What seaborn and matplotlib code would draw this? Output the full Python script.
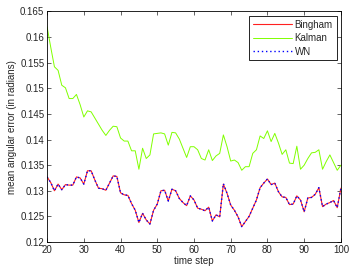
import numpy as np
import pandas as pd
import matplotlib
matplotlib.use("Agg")
import matplotlib.pyplot as plt
import seaborn as sns

steps = list(range(20, 101))

bingham = [
    0.1327, 0.1316, 0.1300, 0.1313, 0.1302, 0.1312, 0.1311, 0.1311, 0.1327, 0.1325,
    0.1313, 0.1339, 0.1339, 0.1321, 0.1305, 0.1304, 0.1301, 0.1315, 0.1329, 0.1328,
    0.1296, 0.1292, 0.1291, 0.1275, 0.1262, 0.1238, 0.1256, 0.1243, 0.1235, 0.1262,
    0.1274, 0.1300, 0.1301, 0.1280, 0.1303, 0.1300, 0.1285, 0.1277, 0.1271, 0.1290,
    0.1282, 0.1266, 0.1264, 0.1261, 0.1268, 0.1241, 0.1253, 0.1249, 0.1313, 0.1295,
    0.1272, 0.1262, 0.1249, 0.1230, 0.1240, 0.1250, 0.1266, 0.1282, 0.1306, 0.1315,
    0.1323, 0.1312, 0.1315, 0.1298, 0.1288, 0.1287, 0.1273, 0.1274, 0.1290, 0.1282,
    0.1259, 0.1286, 0.1287, 0.1293, 0.1306, 0.1269, 0.1274, 0.1277, 0.1281, 0.1267,
    0.1305,
]

kalman = [
    0.1620, 0.1580, 0.1542, 0.1535, 0.1506, 0.1501, 0.1480, 0.1480, 0.1488, 0.1468,
    0.1444, 0.1456, 0.1454, 0.1442, 0.1430, 0.1418, 0.1408, 0.1418, 0.1426, 0.1425,
    0.1403, 0.1397, 0.1397, 0.1378, 0.1378, 0.1342, 0.1383, 0.1363, 0.1370, 0.1411,
    0.1412, 0.1413, 0.1411, 0.1389, 0.1414, 0.1413, 0.1401, 0.1383, 0.1365, 0.1386,
    0.1386, 0.1380, 0.1363, 0.1360, 0.1380, 0.1359, 0.1368, 0.1373, 0.1409, 0.1386,
    0.1358, 0.1360, 0.1355, 0.1340, 0.1347, 0.1347, 0.1373, 0.1380, 0.1407, 0.1402,
    0.1417, 0.1396, 0.1412, 0.1393, 0.1371, 0.1380, 0.1354, 0.1353, 0.1387, 0.1342,
    0.1350, 0.1363, 0.1374, 0.1375, 0.1380, 0.1342, 0.1357, 0.1370, 0.1355, 0.1340,
    0.1350,
]

wn = [
    0.1327, 0.1316, 0.1300, 0.1313, 0.1302, 0.1312, 0.1311, 0.1311, 0.1327, 0.1325,
    0.1313, 0.1339, 0.1339, 0.1321, 0.1305, 0.1304, 0.1301, 0.1315, 0.1329, 0.1328,
    0.1296, 0.1292, 0.1291, 0.1275, 0.1262, 0.1238, 0.1256, 0.1243, 0.1235, 0.1262,
    0.1274, 0.1300, 0.1301, 0.1280, 0.1303, 0.1300, 0.1285, 0.1277, 0.1271, 0.1290,
    0.1282, 0.1266, 0.1264, 0.1261, 0.1268, 0.1241, 0.1253, 0.1249, 0.1314, 0.1295,
    0.1272, 0.1262, 0.1249, 0.1230, 0.1240, 0.1250, 0.1266, 0.1282, 0.1306, 0.1315,
    0.1323, 0.1312, 0.1315, 0.1298, 0.1288, 0.1287, 0.1273, 0.1274, 0.1290, 0.1282,
    0.1259, 0.1286, 0.1287, 0.1293, 0.1306, 0.1269, 0.1274, 0.1277, 0.1281, 0.1267,
    0.1305,
]

sns.set_style("ticks")
plt.rcParams["font.family"] = ["Liberation Sans", "DejaVu Sans"]
plt.rcParams["xtick.direction"] = "in"
plt.rcParams["ytick.direction"] = "in"

fig = plt.figure(figsize=(3.54, 2.73), dpi=100)
ax = fig.add_axes([0.133, 0.1136, 0.830, 0.8444])

sns.lineplot(x=steps, y=bingham, ax=ax, color="#ff2020", lw=0.8, label="Bingham")
sns.lineplot(x=steps, y=kalman, ax=ax, color="#80ff00", lw=0.7, label="Kalman")
sns.lineplot(x=steps, y=wn, ax=ax, color="#0000ff", lw=1.0, ls=(0, (1, 2)),
             label="WN")

ax.set_xlim(20, 100)
ax.set_ylim(0.12, 0.165)
ax.set_xticks(range(20, 101, 10))
ax.set_yticks(np.arange(0.12, 0.1651, 0.005))
ax.set_yticklabels(["0.12", "0.125", "0.13", "0.135", "0.14", "0.145",
                    "0.15", "0.155", "0.16", "0.165"])
ax.tick_params(labelsize=7, length=3, width=0.5, top=True, right=True, pad=2)
for s in ax.spines.values():
    s.set_visible(True)
    s.set_linewidth(0.6)
    s.set_color("black")
ax.set_xlabel("time step", fontsize=7, labelpad=1)
ax.set_ylabel("mean angular error (in radians)", fontsize=7, labelpad=2)

leg = ax.legend(loc="upper right", fontsize=7, fancybox=False, framealpha=1,
                edgecolor="black", handlelength=4.0, borderpad=0.4,
                labelspacing=0.35, handletextpad=0.3, borderaxespad=0.45)
leg.get_frame().set_linewidth(0.6)

fig.savefig("out.png", dpi=100)
